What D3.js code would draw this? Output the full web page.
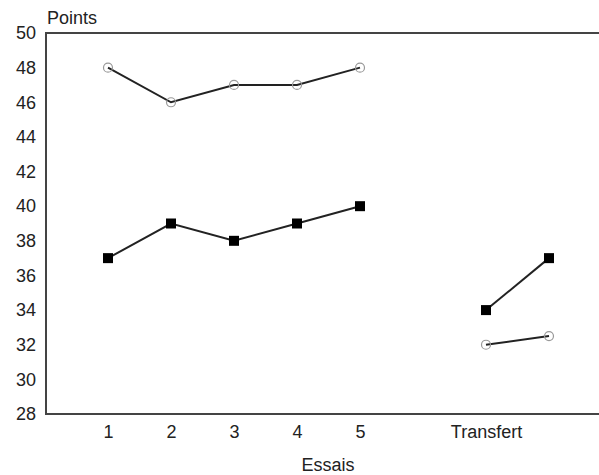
<!DOCTYPE html>
<html>
<head>
<meta charset="utf-8">
<script src="https://cdn.jsdelivr.net/npm/d3@7"></script>
<style>
body { margin: 0; background: #fff; }
svg text { font-family: "Liberation Sans", Arial, sans-serif; fill: #222; }
</style>
</head>
<body>
<svg id="chart" width="599" height="475"></svg>
<script>
// trial positions and tick labels
var essais = [1, 2, 3, 4, 5];
var transfert = [7, 8];
var xTicks = [1, 2, 3, 4, 5, 7];
var xTickLabels = ["1", "2", "3", "4", "5", "Transfert"];
var yTicks = [28, 30, 32, 34, 36, 38, 40, 42, 44, 46, 48, 50];

// open circles series
var cercleEssais = [48, 46, 47, 47, 48];
var cercleTransfert = [32, 32.5];
// filled squares series
var carreEssais = [37, 39, 38, 39, 40];
var carreTransfert = [34, 37];

var svg = d3.select("#chart");

var x = d3.scaleLinear().domain([0, 9]).range([45, 612]);
var y = d3.scaleLinear().domain([28, 50]).range([414, 33]);

// y axis labels
svg.append("g")
  .attr("transform", "translate(46,0)")
  .call(d3.axisLeft(y).tickValues(yTicks).tickSize(0).tickPadding(10))
  .call(function (g) { g.select(".domain").remove() })
  .selectAll("text")
  .style("font-size", "18px")
  .style("fill", "#222");

// x axis labels
svg.append("g")
  .attr("transform", "translate(0,414)")
  .call(d3.axisBottom(x).tickValues(xTicks).tickSize(0).tickPadding(11)
    .tickFormat(function (d, i) { return xTickLabels[i] }))
  .call(function (g) { g.select(".domain").remove() })
  .selectAll("text")
  .style("font-size", "18px")
  .style("fill", "#222");

// frame
svg.append("rect")
  .attr("x", 46)
  .attr("y", 33)
  .attr("width", 640)
  .attr("height", 381)
  .attr("fill", "none")
  .attr("stroke", "#444")
  .attr("stroke-width", 2);

svg.append("text")
  .attr("x", 47)
  .attr("y", 24)
  .style("font-size", "18px")
  .text("Points");

svg.append("text")
  .attr("x", 328)
  .attr("y", 471)
  .attr("text-anchor", "middle")
  .style("font-size", "18px")
  .text("Essais");

var line = d3.line()
  .x(function (d) { return x(d[0]) })
  .y(function (d) { return y(d[1]) });

function serie(pos, vals) {
  return pos.map(function (p, i) { return [p, vals[i]] });
}

var groupes = [
  { pts: serie(essais, cercleEssais), type: "cercle" },
  { pts: serie(transfert, cercleTransfert), type: "cercle" },
  { pts: serie(essais, carreEssais), type: "carre" },
  { pts: serie(transfert, carreTransfert), type: "carre" }
];

groupes.forEach(function (g) {
  svg.append("path")
    .attr("d", line(g.pts))
    .attr("fill", "none")
    .attr("stroke", "#222")
    .attr("stroke-width", 2);

  if (g.type == "cercle") {
    svg.selectAll(null)
      .data(g.pts)
      .enter()
      .append("circle")
      .attr("cx", function (d) { return x(d[0]) })
      .attr("cy", function (d) { return y(d[1]) })
      .attr("r", 4.5)
      .attr("fill", "none")
      .attr("stroke", "#999")
      .attr("stroke-width", 1.2);
  } else {
    svg.selectAll(null)
      .data(g.pts)
      .enter()
      .append("rect")
      .attr("x", function (d) { return x(d[0]) - 5 })
      .attr("y", function (d) { return y(d[1]) - 5 })
      .attr("width", 10)
      .attr("height", 10)
      .attr("fill", "#000");
  }
});
</script>
</body>
</html>
